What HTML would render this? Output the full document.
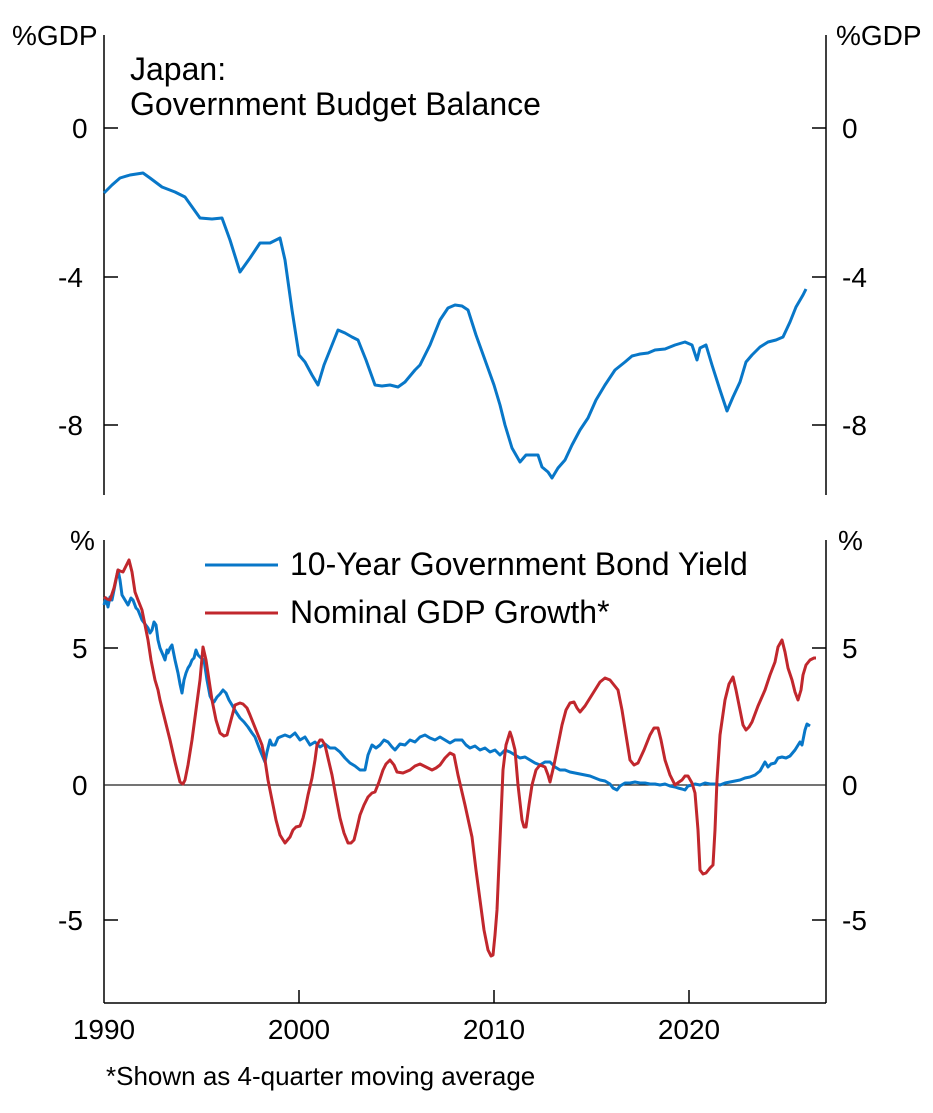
<!DOCTYPE html>
<html><head><meta charset="utf-8"><style>body{margin:0;background:#fff}svg{display:block}text{font-family:"Liberation Sans",Arial,sans-serif;fill:#000}</style></head>
<body>
<svg width="933" height="1113" viewBox="0 0 933 1113">
<g stroke="#000" stroke-width="1.5" fill="none">
<line x1="104" y1="35" x2="104" y2="495"/><line x1="826" y1="35" x2="826" y2="495"/>
<line x1="104" y1="540" x2="104" y2="1003"/><line x1="826" y1="540" x2="826" y2="1003"/>
<line x1="104" y1="1003" x2="826" y2="1003"/>
<line x1="104" y1="128" x2="118" y2="128"/><line x1="104" y1="277" x2="118" y2="277"/><line x1="104" y1="425" x2="118" y2="425"/>
<line x1="812" y1="128" x2="826" y2="128"/><line x1="812" y1="277" x2="826" y2="277"/><line x1="812" y1="425" x2="826" y2="425"/>
<line x1="104" y1="648" x2="118" y2="648"/><line x1="104" y1="920" x2="118" y2="920"/>
<line x1="812" y1="648" x2="826" y2="648"/><line x1="812" y1="920" x2="826" y2="920"/>
<line x1="299" y1="1003" x2="299" y2="990"/><line x1="494" y1="1003" x2="494" y2="990"/><line x1="689" y1="1003" x2="689" y2="990"/>
</g>
<line x1="104" y1="785" x2="826" y2="785" stroke="#222" stroke-width="1.3"/>
<g font-size="28">
<text x="12" y="45">%GDP</text><text x="836" y="45">%GDP</text>
<text x="72" y="138">0</text><text x="58" y="287">-4</text><text x="58" y="435">-8</text>
<text x="842" y="138">0</text><text x="842" y="287">-4</text><text x="842" y="435">-8</text>
<text x="70" y="550">%</text><text x="838" y="550">%</text>
<text x="72" y="658">5</text><text x="72" y="795">0</text><text x="58" y="930">-5</text>
<text x="842" y="658">5</text><text x="842" y="795">0</text><text x="842" y="930">-5</text>
<text x="104" y="1039" text-anchor="middle">1990</text><text x="299" y="1039" text-anchor="middle">2000</text>
<text x="494" y="1039" text-anchor="middle">2010</text><text x="689" y="1039" text-anchor="middle">2020</text>
<text x="130" y="80" font-size="32">Japan:</text>
<text x="130" y="115" font-size="32">Government Budget Balance</text>
<text x="290" y="575" font-size="32">10-Year Government Bond Yield</text>
<text x="290" y="623" font-size="32">Nominal GDP Growth*</text>
</g>
<text x="106" y="1085" font-size="26">*Shown as 4-quarter moving average</text>
<line x1="205" y1="565" x2="278" y2="565" stroke="#0877c8" stroke-width="3"/>
<line x1="205" y1="613" x2="278" y2="613" stroke="#c1272d" stroke-width="3"/>
<polyline fill="none" stroke="#0877c8" stroke-width="3" stroke-linejoin="round" points="104,193 112,185 120,178 130,175 143,173 150,178 162,187 175,192 185,197 200,218 212,219 222,218 230,240 240,272 250,258 260,243 270,243 280,238 285,260 292,310 299,355 305,362 312,375 318,385 324,365 332,345 338,330 345,333 352,337 358,340 366,360 375,385 382,386 390,385 398,387 405,382 415,370 420,365 430,345 440,320 448,308 455,305 462,306 468,310 476,335 485,360 494,385 500,405 505,425 512,448 520,462 526,455 532,455 538,455 542,467 548,472 552,478 558,468 565,460 572,445 580,430 588,418 596,400 605,385 615,370 625,362 632,356 640,354 648,353 655,350 665,349 675,345 685,342 692,345 697,360 700,348 706,345 712,365 720,390 727,411 733,397 740,382 746,362 752,355 760,347 768,342 776,340 783,337 790,322 796,307 803,295 806,289"/>
<polyline fill="none" stroke="#0877c8" stroke-width="3" stroke-linejoin="round" points="104,605 106,598 108,607 110,597 112,600 115,585 118,570 120,580 122,595 125,600 128,605 131,598 133,600 136,608 138,610 140,615 142,620 145,624 148,628 150,633 152,630 154,622 156,625 158,640 160,648 163,655 165,660 167,650 168,653 170,648 172,645 175,660 178,673 180,684 182,693 184,680 186,673 188,668 190,665 192,660 194,658 196,650 198,655 201,658 204,660 207,680 210,696 212,700 214,702 217,697 220,694 223,690 226,693 229,700 232,705 236,712 240,718 244,722 248,727 252,733 255,737 260,750 265,762 267,752 270,740 272,745 275,745 278,738 280,737 285,735 290,737 295,733 300,740 305,737 310,745 315,742 320,747 325,744 330,748 335,748 340,752 345,758 350,763 355,766 360,770 365,770 368,755 372,745 376,748 380,745 384,740 388,742 392,747 395,750 400,744 405,745 410,740 415,742 420,737 425,735 430,738 435,740 440,737 445,740 450,743 455,740 462,740 466,745 470,748 475,746 480,750 485,748 490,752 495,750 500,755 505,750 510,752 515,755 520,758 525,757 530,760 535,763 540,765 545,762 550,762 555,767 560,770 565,770 570,772 575,773 580,774 585,775 590,776 595,778 600,780 605,781 610,784 613,788 617,790 620,786 625,783 630,783 635,782 640,783 645,783 650,784 655,784 660,785 665,784 670,786 675,787 678,788 682,789 685,790 688,786 692,785 695,784 700,785 705,783 710,784 715,784 720,785 725,783 730,782 735,781 740,780 745,778 750,777 755,775 760,771 765,762 768,767 771,764 775,763 778,758 782,757 786,758 790,756 795,750 800,742 802,745 805,730 807,724 810,726"/>
<polyline fill="none" stroke="#c1272d" stroke-width="3" stroke-linejoin="round" points="104,597 107,599 110,600 114,588 118,570 120,571 123,572 126,566 129,560 132,572 135,592 138,600 142,610 145,625 148,640 151,660 155,680 158,690 160,700 165,720 170,740 175,762 180,782 183,784 185,780 188,765 192,740 196,710 200,680 203,647 206,660 209,680 212,700 216,720 220,733 224,736 227,735 231,720 235,705 240,703 243,704 247,708 250,715 254,725 258,735 262,745 265,760 268,780 272,800 276,820 280,835 285,843 290,837 293,830 296,827 300,826 303,818 305,810 308,795 312,778 315,760 317,745 320,740 322,740 325,745 328,758 332,775 336,797 340,818 344,833 348,843 351,843 354,840 357,828 360,815 364,805 368,797 372,793 375,792 379,782 383,770 386,764 390,760 394,765 397,772 403,773 410,770 415,766 420,764 426,767 432,770 436,768 440,765 445,758 450,753 454,755 458,775 465,805 472,837 476,870 480,900 484,930 488,950 491,956 493,955 495,935 497,910 500,840 503,770 506,745 510,732 512,738 515,750 518,785 522,820 524,827 526,827 529,805 532,785 536,770 540,765 545,767 548,775 550,782 554,765 558,745 562,725 566,710 570,703 574,702 577,708 580,712 585,706 590,698 595,690 600,682 605,678 610,680 614,685 618,690 622,710 626,735 630,760 634,765 638,763 644,750 650,735 654,728 658,728 661,740 665,760 670,775 675,785 679,782 682,780 685,776 688,776 692,783 695,793 698,830 700,870 703,874 706,873 710,868 713,865 715,830 717,780 720,735 725,700 729,684 733,677 736,690 740,710 743,725 746,730 749,727 752,722 758,706 765,690 770,675 775,662 778,647 782,640 785,652 788,668 792,680 795,692 798,700 801,690 803,675 806,665 810,660 814,658 816,658"/>
</svg>
</body></html>
